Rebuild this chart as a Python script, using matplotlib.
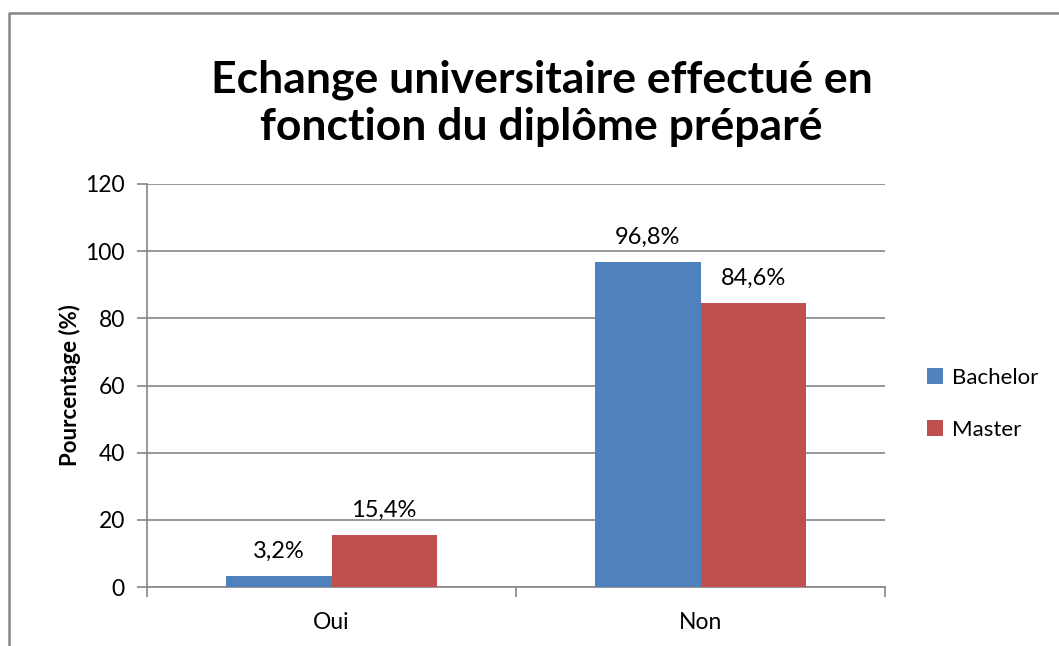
import numpy as np
import matplotlib.pyplot as plt
from matplotlib.lines import Line2D

plt.rcParams['font.family'] = ['Lato', 'DejaVu Sans']

categories = ['Oui', 'Non']
bachelor = [3.2, 96.8]
master = [15.4, 84.6]
series_names = ['Bachelor', 'Master']
colors = ['#4F81BD', '#C0504D']
yticks = [0, 20, 40, 60, 80, 100, 120]

W, H = 1059, 646
fig = plt.figure(figsize=(W / 100, H / 100), dpi=100)

# plot area in pixel coordinates
left, right, top, bottom = 147, 885, 184, 587
ax = fig.add_axes([left / W, 1 - bottom / H, (right - left) / W, (bottom - top) / H])

x = np.arange(len(categories))
bw = 0.285
grid_col = '#868686'

for vals, off, name, col in zip([bachelor, master], [-bw / 2, bw / 2], series_names, colors):
    bars = ax.bar(x + off, vals, bw, color=col, label=name, zorder=3)
    for b, v in zip(bars, vals):
        ax.text(b.get_x() + b.get_width() / 2, v + 4.3, f'{v:.1f}%'.replace('.', ','),
                ha='center', va='bottom', fontsize=17, color='#000000')

ax.set_xlim(-0.5, len(categories) - 0.5)
ax.set_ylim(0, 120)
ax.set_yticks(yticks)
ax.set_xticks(x)
ax.set_xticklabels(categories)
ax.set_xticks([-0.5, 0.5, 1.5], minor=True)

ax.grid(axis='y', color=grid_col, linewidth=1.2, zorder=0)
for s in ['top', 'right']:
    ax.spines[s].set_visible(False)
for s in ['left', 'bottom']:
    ax.spines[s].set_color(grid_col)
    ax.spines[s].set_linewidth(1.2)

ax.tick_params(axis='y', length=7, width=1.2, color=grid_col, labelsize=16.5, pad=9)
ax.tick_params(axis='x', which='major', length=0, labelsize=16.5, pad=18)
ax.tick_params(axis='x', which='minor', length=7, width=1.2, color=grid_col)

ax.set_ylabel('Pourcentage (%)', fontsize=16, fontweight='bold', labelpad=3)

fig.text(0.5 + 12 / W, 1 - 103 / H, 'Echange universitaire effectué en\nfonction du diplôme préparé',
         ha='center', va='center', fontsize=32, fontweight='bold', linespacing=1.22)

ax.legend(loc='center left', bbox_to_anchor=(1.03, 0.455), frameon=False, fontsize=16,
          handlelength=0.7, handleheight=0.7, handletextpad=0.4, labelspacing=1.45)

# outer chart border (top and left edges visible)
fig.add_artist(Line2D([8.5 / W, 8.5 / W, 1.0], [0.0, 1 - 12.5 / H, 1 - 12.5 / H],
                      transform=fig.transFigure, color='#878787', linewidth=1.8))

fig.savefig('out.png', dpi=100, facecolor='white')
